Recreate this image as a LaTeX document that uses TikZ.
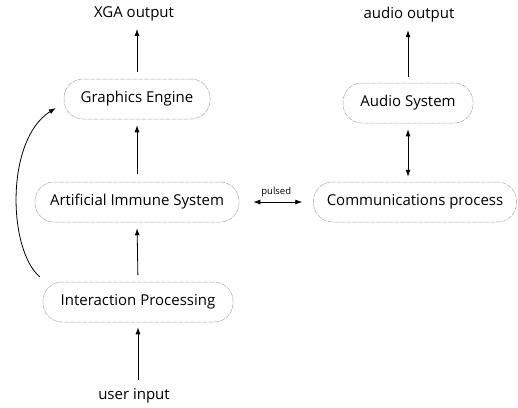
\documentclass[tikz,border=0pt]{standalone}
\usepackage{fontspec}
\setmainfont{Open Sans}
\usetikzlibrary{arrows.meta}

\begin{document}
\begin{tikzpicture}[x=1pt,y=-1pt,
    blk/.style={draw=gray!65, line width=0.5pt, dash pattern=on 5pt off 1pt,
      rounded corners=19pt, minimum height=40pt, font=\fontsize{15}{17}\selectfont},
    lbl/.style={font=\fontsize{15}{17}\selectfont},
    >={Latex[length=7pt,width=5pt]}, line width=0.8pt]
    \useasboundingbox (0,0) rectangle (518,407);

    % left column
    \node[lbl] (xga) at (134,14) {XGA\ output};
    \node[blk, minimum width=146pt] (ge) at (137,99) {Graphics\ Engine};
    \node[blk, minimum width=204pt] (ais) at (137,202) {Artificial Immune System};
    \node[blk, minimum width=190pt] (ip) at (138,302) {Interaction Processing};
    \node[lbl] (usr) at (134,396) {user\ input};

    % right column
    \node[lbl] (aud) at (409,15) {audio output};
    \node[blk, minimum width=130pt] (as) at (408,103) {Audio System};
    \node[blk, minimum width=203pt] (comm) at (415,202) {Communications process};

    \draw[->, shorten <=5pt, shorten >=5pt] (usr.north -| ip) -- (ip.south);
    \draw[->, shorten <=7pt, shorten >=6pt] (ip.north) -- (ais.south);
    \draw[->, shorten <=8pt, shorten >=6pt] (ais.north) -- (ge.south);
    \draw[->, shorten <=7pt, shorten >=4pt] (ge.north) -- (xga.south -| ge);
    \draw[->] ([shift={(-3pt,5pt)}]ip.north west) .. controls (8,250) and (5,140) .. ([shift={(-8pt,-9pt)}]ge.west);

    \draw[->, shorten <=6pt, shorten >=4pt] (as.north) -- (aud.south -| as);
    \draw[<->, shorten <=6pt, shorten >=5pt] (as.south) -- (comm.north -| as);
    \draw[<->, shorten <=14pt, shorten >=11pt] (ais.east) -- node[above=1pt, font=\fontsize{9.5}{11}\selectfont] {pulsed} (comm.west);
\end{tikzpicture}
\end{document}
